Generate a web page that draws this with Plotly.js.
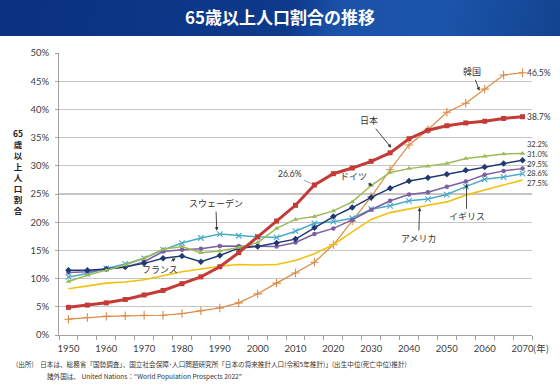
<!DOCTYPE html>
<html><head><meta charset="utf-8">
<script src="https://cdn.plot.ly/plotly-3.0.1.min.js"></script>
<style>
html,body{margin:0;padding:0;background:#fff;}
#wrap{position:relative;width:560px;height:386px;overflow:hidden;background:#fff;}
#band{position:absolute;left:0;top:0;width:560px;height:36px;
 background:linear-gradient(105deg,#0b3180 0%,#0e3a8c 52%,#1a52a8 60%,#1b55ab 78%,#13438f 100%);}
#chart{position:absolute;left:0;top:0;width:560px;height:386px;}
</style></head><body>
<div id="wrap"><div id="band"></div><div id="chart"></div></div>
<script>
// ---- data ----
const years = [1950,1955,1960,1965,1970,1975,1980,1985,1990,1995,2000,2005,2010,2015,2020,2025,2030,2035,2040,2045,2050,2055,2060,2065,2070];
const tickYears = [1950,1960,1970,1980,1990,2000,2010,2020,2030,2040,2050,2060,2070];
const japan   = [4.9,5.3,5.7,6.3,7.1,7.9,9.1,10.3,12.1,14.6,17.4,20.2,23.0,26.6,28.6,29.6,30.8,32.3,34.8,36.3,37.1,37.6,37.9,38.4,38.7];
const korea   = [2.8,3.1,3.3,3.4,3.5,3.5,3.8,4.3,4.8,5.7,7.3,9.2,11.0,12.9,16.0,20.2,24.5,29.3,33.7,36.4,39.5,41.1,43.6,46.1,46.5];
const germany = [9.5,10.6,11.5,12.4,13.6,15.2,15.7,14.6,14.9,15.5,16.4,18.9,20.5,21.0,22.0,23.6,26.5,28.8,29.5,29.9,30.4,31.3,31.7,32.1,32.2];
const france  = [11.5,11.5,11.7,12.1,12.7,13.6,14.0,13.0,14.1,15.4,15.7,16.3,17.0,19.0,21.0,22.6,24.4,26.0,27.3,27.9,28.5,29.2,29.8,30.4,31.0];
const uk      = [11.1,11.2,11.7,12.0,13.0,14.8,15.1,15.3,15.8,15.8,15.8,15.7,16.4,17.9,18.9,20.4,22.2,23.8,24.9,25.3,26.3,27.2,28.4,29.1,29.5];
const sweden  = [10.3,10.9,11.8,12.6,13.6,15.1,16.3,17.2,17.9,17.6,17.4,17.3,18.4,19.8,20.1,20.7,22.3,22.9,23.8,24.1,24.9,26.3,27.6,28.0,28.6];
const usa     = [8.2,8.7,9.2,9.4,9.8,10.5,11.2,11.7,12.2,12.5,12.4,12.5,13.2,14.4,16.0,18.3,20.5,21.7,22.4,23.0,23.6,24.8,25.7,26.6,27.5];
const yTicks = [0,5,10,15,20,25,30,35,40,45,50];
const titleText = '65歳以上人口割合の推移';
const yTitleChars = ['65','歳','以','上','人','口','割','合'];
const note1 = '(出所)　日本は、総務省「国勢調査」、国立社会保障･人口問題研究所「日本の将来推計人口(令和5年推計)」(出生中位(死亡中位)推計)';
const note2 = '諸外国は、 United Nations：“World Population Prospects 2022”';

// ---- layout helpers (pixel -> paper) ----
const L=59, R=532, T=53, B=335;
const px = x => (x-L)/(R-L);
const py = y => (B-y)/(B-T);
const JP = '"Noto Sans CJK JP", sans-serif';
const NUM = 'Lato, "Noto Sans CJK JP", sans-serif';

function tr(vals, color, width, symbol, size, thin){
  const t = {x: years, y: vals, type:'scatter', mode: symbol ? 'lines+markers':'lines',
    line:{color:color, width:width}, hoverinfo:'skip'};
  if(symbol){
    t.marker = {symbol:symbol, size:size, color:color};
    if(thin) t.marker.line = {color:color, width:1.1};
  }
  return t;
}
const data = [
  tr(korea,  '#dc8a45', 1.2, 'cross-thin', 6, true),
  tr(usa,    '#f3c10a', 1.6, null),
  tr(sweden, '#4aabc6', 1.5, 'x-thin', 5.5, true),
  tr(uk,     '#7b5ea3', 1.5, 'circle', 4.5),
  tr(france, '#1f3a72', 1.5, 'diamond', 5),
  tr(germany,'#9bbb59', 1.5, 'triangle-up', 5),
  tr(japan,  '#c43a36', 3, 'square', 5)
];

const ann = [];
// y-axis title (stacked)
ann.push({xref:'paper', yref:'paper', x:px(17.5), y:py(171), text:yTitleChars.join('<br>'), showarrow:false,
  font:{family:JP, size:8.5, color:'#222', weight:'bold'}, xanchor:'center', yanchor:'middle', align:'center'});
// (年)
ann.push({xref:'paper', yref:'paper', x:px(531), y:py(348), text:'(年)', showarrow:false,
  font:{family:JP, size:9.5, color:'#404040'}, xanchor:'left', yanchor:'middle'});
// footnotes
ann.push({xref:'paper', yref:'paper', x:px(14), y:py(364), text:note1, showarrow:false,
  font:{family:JP, size:6.6, color:'#333'}, xanchor:'left', yanchor:'middle'});
ann.push({xref:'paper', yref:'paper', x:px(45), y:py(376), text:note2, showarrow:false,
  font:{family:JP, size:6.6, color:'#333'}, xanchor:'left', yanchor:'middle'});
// end value labels
const last = a => a[a.length-1].toFixed(1)+'%';
[[korea,73],[japan,117]].forEach(([a,yy])=>{
  ann.push({xref:'x', yref:'paper', x:years[years.length-1], xshift:3, y:py(yy), text:last(a), showarrow:false,
    font:{family:NUM, size:8.5, color:'#333'}, xanchor:'left', yanchor:'middle', borderpad:0});
});
ann.push({xref:'x', yref:'paper', x:years[years.length-1], xshift:3, y:py(163.5),
  text:[germany,france,uk,sweden,usa].map(last).join('<br>'), showarrow:false, align:'left',
  font:{family:NUM, size:7.5, color:'#333'}, xanchor:'left', yanchor:'middle', borderpad:0});
// series name labels with arrows
function lab(text, x, y, ax, ay, head){
  ann.push({xref:'x', yref:'y', x:x, y:y, ax:ax, ay:ay, text:text, showarrow:true,
    arrowhead: head===undefined?2:head, arrowsize:0.8, arrowwidth:0.9, arrowcolor:'#333',
    font:{family:JP, size:9, color:'#333'}});
}
lab('韓国', 2058.6, 43.3, -7, -19);
lab('日本', 2035.3, 33.2, -22, -27);
lab('ドイツ', 2030.3, 26.5, -19, -9);
lab('スウェーデン', 1989.2, 18.5, -1, -27);
lab('フランス', 1978.3, 13.6, -16, 11);
lab('アメリカ', 2042.8, 22.6, -1, 31);
lab('イギリス', 2055.2, 26.8, 0, 33);
ann.push({xref:'x', yref:'y', x:2015, y:japan[13], ax:-24, ay:-11, text:'26.6%', showarrow:true,
  arrowhead:0, arrowwidth:0.8, arrowcolor:'#888', standoff:3,
  font:{family:NUM, size:8.5, color:'#333'}});

const layout = {
  width:560, height:386,
  margin:{l:L, r:560-R, t:T, b:386-B, pad:0},
  paper_bgcolor:'rgba(0,0,0,0)', plot_bgcolor:'rgba(0,0,0,0)',
  showlegend:false,
  title:{text:titleText, x:0.5, xref:'container', xanchor:'center', y:1-18/386, yref:'container', yanchor:'middle',
    font:{family:JP, size:17, color:'#ffffff', weight:'bold'}},
  xaxis:{range:[1947.5,2072.5], tickvals:tickYears, ticktext:tickYears.map(String), ticks:'',
    showgrid:false, zeroline:false, showline:true, linecolor:'#a0a0a0', linewidth:1,
    tickfont:{family:NUM, size:9.5, color:'#404040'}, ticklabelstandoff:5,
    minor:{tick0:1947.5, dtick:5, ticks:'outside', ticklen:4, tickcolor:'#a0a0a0', tickwidth:1, showgrid:false}},
  yaxis:{range:[0,50], tickvals:yTicks, ticktext:yTicks.map(v=>v+'%'), ticks:'outside', ticklen:3,
    tickcolor:'#a0a0a0', showgrid:true, gridcolor:'#c4c4c4', gridwidth:1.2, zeroline:false,
    showline:true, linecolor:'#a0a0a0', linewidth:1,
    tickfont:{family:NUM, size:9.5, color:'#404040'}, ticklabelstandoff:4},
  annotations: ann
};
Plotly.newPlot('chart', data, layout, {staticPlot:true, displayModeBar:false});
</script>
</body></html>
